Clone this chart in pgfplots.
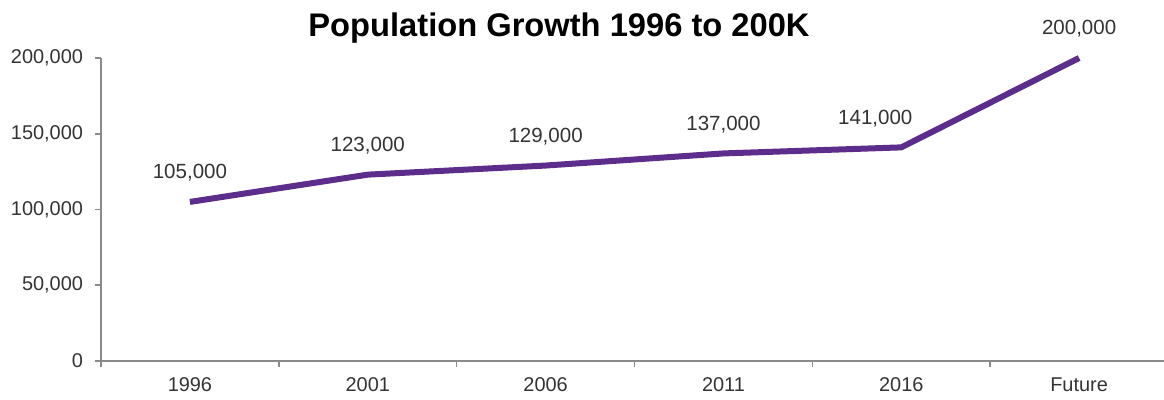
\documentclass[border=0pt]{standalone}
\usepackage{pgfplots}
\pgfplotsset{compat=1.18}
\usepackage{fontspec}
\setmainfont{Liberation Sans}
\definecolor{lineC}{HTML}{5C2D8A}
\definecolor{axC}{HTML}{8A8A8A}
\definecolor{txtC}{HTML}{333333}
\begin{document}
\begin{tikzpicture}[x=0.5bp,y=0.5bp]
\useasboundingbox (0,0) rectangle (1164,400);
\node[font=\fontsize{16.4}{18}\selectfont\bfseries, anchor=base] at (559,363) {Population Growth 1996 to 200K};
\begin{axis}[
  at={(101*0.5bp,39*0.5bp)}, anchor=south west,
  scale only axis, width=533.5bp, height=151.5bp,
  xmin=-0.5, xmax=5.5, ymin=0, ymax=200000,
  axis x line*=bottom, axis y line*=left,
  axis line style={-, draw=axC, line width=0.8bp},
  xtick={0,1,2,3,4,5},
  xticklabels={1996,2001,2006,2011,2016,Future},
  major x tick style={draw=none},
  minor xtick={-0.5,0.5,1.5,2.5,3.5,4.5},
  minor tick length=3bp,
  minor x tick style={draw=axC, line width=0.8bp},
  ytick={0,50000,100000,150000,200000},
  major tick length=3bp,
  y tick style={draw=axC, line width=0.8bp},
  tick align=outside,
  scaled y ticks=false,
  ticklabel style={font=\fontsize{10}{12}\selectfont, text=txtC},
  yticklabel style={xshift=-2.5bp, /pgf/number format/.cd, fixed, 1000 sep={,}, assume math mode=true},
  xticklabel style={yshift=-2bp},
  clip=false,
  nodes near coords={\pgfmathprintnumber[fixed,precision=0,1000 sep={,},assume math mode=true]{\pgfplotspointmeta}},
  nodes near coords style={font=\fontsize{10.3}{12}\selectfont, text=txtC, anchor=center, yshift=14.5bp},
]
\addplot[lineC, line width=3bp, mark=none, nodes near coords={}] coordinates {
  (0,105000) (1,123000) (2,129000) (3,137000) (4,141000) (5,200000)
};
\addplot[draw=none, mark=none] coordinates {
  (0,105000) (1,123000) (2,129000) (3,137000) (5,200000)
};
\addplot[draw=none, mark=none, nodes near coords style={xshift=-13bp}] coordinates {
  (4,141000)
};
\end{axis}
\end{tikzpicture}
\end{document}
